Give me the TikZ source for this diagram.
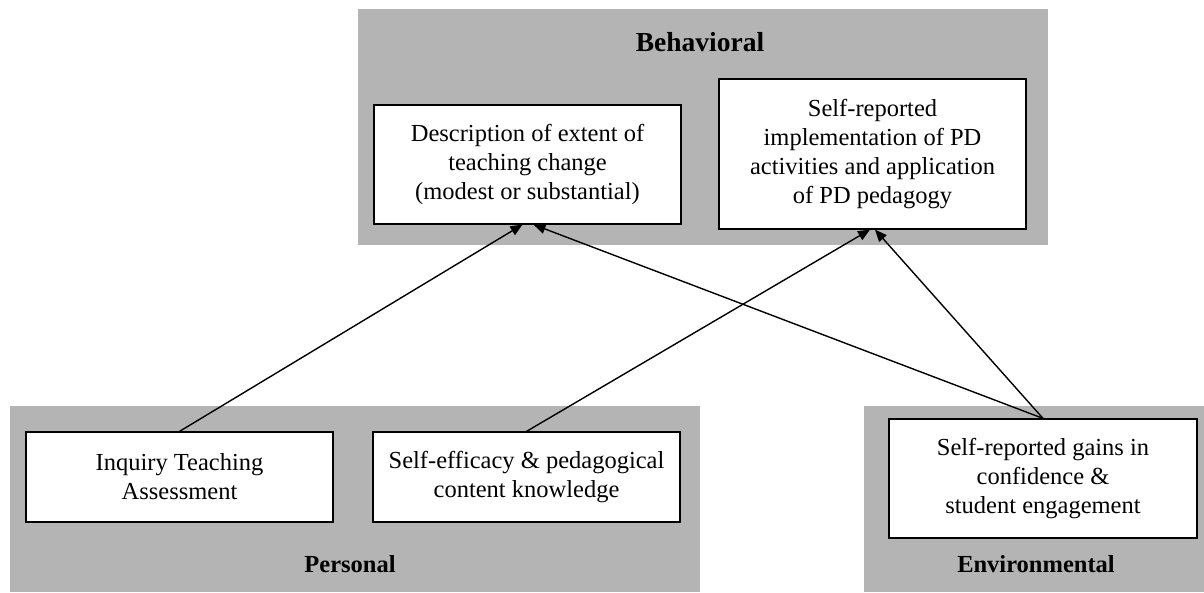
\documentclass[tikz,border=0pt]{standalone}
\usepackage{fontspec}
\setmainfont{Liberation Serif}
\usetikzlibrary{arrows.meta,calc}
\definecolor{panelgray}{RGB}{180,180,180}
\begin{document}
\begin{tikzpicture}[x=1pt,y=-1pt,
  box/.style={draw=black,fill=white,line width=1.2pt,align=center,
    inner sep=0pt,minimum width=307pt,font=\fontsize{24.5}{29}\selectfont},
  title/.style={anchor=base,font=\fontsize{24.5}{29}\selectfont\bfseries},
  link/.style={line width=1.4pt,-{Triangle[length=12pt,width=10pt]}}]
\useasboundingbox (0,0) rectangle (1204,592);

% grouping panels
\fill[panelgray] (358,9) rectangle (1048,245);
\fill[panelgray] (10,406) rectangle (700,592);
\fill[panelgray] (864,406) rectangle (1204,592);

\node[title,font=\fontsize{27.5}{29}\selectfont\bfseries] (tb) at (700,51) {Behavioral};
\node[title] (tp) at (350,572) {Personal};
\node[title] (te) at (1036,572) {Environmental};

% behavioral outcomes
\node[box,minimum height=119pt] (A) at (527.5,164.5)
  {Description of extent of\\teaching change\\(modest or substantial)};
\node[box,minimum height=150pt] (B) at (872.5,154)
  {Self-reported\\implementation of PD\\activities and application\\of PD pedagogy};

% personal factors
\node[box,minimum height=90pt] (C) at (179.5,477)
  {Inquiry Teaching\\Assessment};
\node[box,minimum height=90pt] (D) at (526.5,477)
  {Self-efficacy \& pedagogical\\content knowledge};

% environmental factor
\node[box,minimum width=308pt,minimum height=119pt] (E) at (1043,478.5)
  {Self-reported gains in\\confidence \&\\student engagement};

% arrow landing points on the lower edges
\coordinate (a1) at ($(A.south)+(-5,0)$);
\coordinate (a2) at ($(A.south)+(6,0)$);
\coordinate (b1) at ($(B.south)+(-2.5,0)$);
\coordinate (b2) at ($(B.south)+(2.5,0)$);

\draw[link] (C.north) -- (a1);
\draw[link] (D.north) -- (b1);
\draw[link] (E.north) -- (a2);
\draw[link] (E.north) -- (b2);
\end{tikzpicture}
\end{document}
